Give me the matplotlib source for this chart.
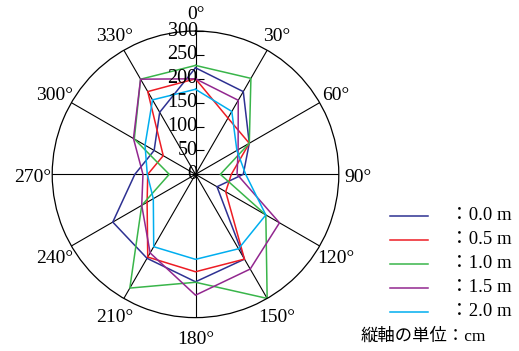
import numpy as np
import matplotlib.pyplot as plt
from matplotlib.lines import Line2D

plt.rcParams['font.family'] = ['Liberation Serif', 'Noto Sans CJK JP']

# 方位 (度) と目盛
angles = [0, 30, 60, 90, 120, 150, 180, 210, 240, 270, 300, 330]
angle_labels = [f"{a}°" for a in angles]
r_ticks = [0, 50, 100, 150, 200, 250, 300]

# 深さごとの値 (cm)
depth_labels = ["：0.0 m", "：0.5 m", "：1.0 m", "：1.5 m", "：2.0 m"]
colors = ["#2E3192", "#ED1C24", "#39B54A", "#92278F", "#00AEEF"]
d00 = [223, 200, 130, 100, 52, 205, 225, 203, 200, 127, 100, 150]
d05 = [200, 136, 130, 75, 73, 205, 204, 200, 117, 100, 78, 200]
d10 = [228, 232, 130, 52, 170, 300, 226, 275, 130, 55, 148, 230]
d15 = [200, 179, 103, 87, 203, 229, 253, 190, 130, 110, 150, 230]
d20 = [178, 152, 100, 105, 170, 180, 178, 175, 102, 101, 122, 180]
series = [d00, d05, d10, d15, d20]

fig = plt.figure(figsize=(5.19, 3.51), dpi=100)
ax = fig.add_axes([0.1006, 0.0951, 0.5522, 0.8165], projection='polar')
ax.set_theta_zero_location('N')
ax.set_theta_direction(-1)
ax.set_ylim(0, 300)

# 放射線と外周
ax.set_thetagrids(angles, [])
ax.xaxis.grid(True, color='black', linewidth=0.8)
ax.yaxis.grid(False)
ax.set_yticks([])
ax.spines['polar'].set_color('black')
ax.spines['polar'].set_linewidth(0.9)

# 方位ラベルは外周の外側に置く
for a, lab in zip(angles, angle_labels):
    ax.annotate(lab, (np.deg2rad(a), 340), xytext=(0, -2), textcoords='offset points',
                ha='center', va='center', fontsize=14, annotation_clip=False)

# 縦軸の目盛 (0°方向)
tick_mark = [(0, 0), (1, 0)]
for r in r_ticks:
    ax.plot(0, r, marker=tick_mark, markersize=11.5, color='black',
            markeredgewidth=0.8, clip_on=False)
    ax.annotate(str(r), (0, r), xytext=(1.5, 0), textcoords='offset points',
                ha='right', va='center', fontsize=14.5)

theta = np.deg2rad(angles + [angles[0]])
for vals, c in zip(series, colors):
    ax.plot(theta, vals + [vals[0]], color=c, linewidth=1.1)

# 凡例
for i, (lab, c) in enumerate(zip(depth_labels, colors)):
    y = 1 - (215.7 + 24 * i) / 351
    fig.add_artist(Line2D([390 / 519, 428 / 519], [y, y], color=c, linewidth=1.1))
    fig.text(450 / 519, y, lab, ha='left', va='center', fontsize=13.5)
fig.text(361 / 519, 1 - 336.7 / 351, "縦軸の単位：cm", ha='left', va='center', fontsize=12.5)

fig.savefig('out.png', dpi=100)
